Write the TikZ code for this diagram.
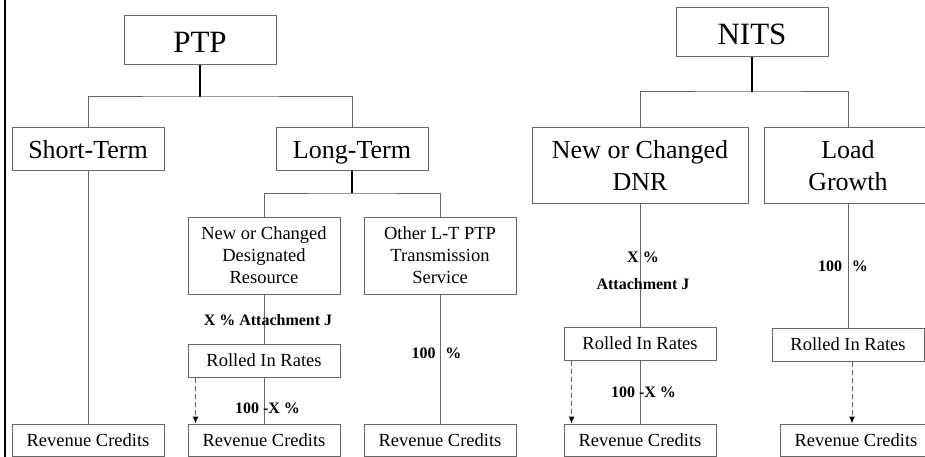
\documentclass[tikz,border=0pt]{standalone}
\usepackage{fontspec}
\setmainfont{Liberation Serif}
\usetikzlibrary{arrows.meta}
\definecolor{edge}{rgb}{0.40,0.40,0.40}
\tikzset{
  box/.style={draw=edge, line width=1pt, inner sep=0pt, align=center, text=black},
  huge/.style={box, minimum width=152pt, minimum height=49pt, font=\fontsize{31}{36}\selectfont,
               text height=24pt, text depth=0pt},
  mid/.style={box, minimum height=43pt, font=\fontsize{26}{31.5}\selectfont},
  midline/.style={mid, text height=20pt, text depth=3pt},
  small/.style={box, minimum width=152pt, font=\fontsize{18.5}{22}\selectfont},
  conn/.style={draw=edge, line width=1pt},
  stub/.style={draw=black, line width=1.6pt},
  flow/.style={draw=edge, line width=1pt, dash pattern=on 5pt off 3pt,
               -{Latex[length=7pt,width=6pt,color=black]}},
  lbl/.style={inner sep=0pt, font=\fontsize{16}{19}\selectfont\bfseries}
}
\begin{document}
\begin{tikzpicture}[x=1pt,y=-1pt]
\useasboundingbox (0,0) rectangle (925,457);
\clip (0,0) rectangle (925,457);

% left margin rule
\draw[black, line width=2.4pt] (5,-2) -- (5,460);

% ---------- PTP tree ----------
\node[huge] (ptp) at (200,40.5) {PTP};
\node[midline, minimum width=152pt] (short) at (88,149.5) {Short-Term};
\node[midline, minimum width=152pt] (long) at (352,149.5) {Long-Term};
\node[small, minimum height=77pt] (ncdr) at (264,255.5) {New or Changed\\Designated\\Resource};
\node[small, minimum height=77pt] (olt) at (440,255.5) {Other L-T PTP\\Transmission\\Service};
\node[small, minimum height=33pt] (rolA) at (264,360.5) {Rolled In Rates};
\node[small, minimum height=32pt] (revA) at (88,440) {Revenue Credits};
\node[small, minimum height=32pt] (revB) at (264,440) {Revenue Credits};
\node[small, minimum height=32pt] (revC) at (440,440) {Revenue Credits};

\coordinate (jPTP) at (200,97);
\coordinate (jLT) at (352,193);
\draw[stub] (ptp) -- (jPTP);
\draw[conn] (short.north) |- (jPTP) -| (long.north);
\draw[stub] (long) -- (jLT);
\draw[conn] (ncdr.north) |- (jLT) -| (olt.north);
\draw[conn] (short) -- (revA);
\draw[conn] (ncdr) -- (rolA);
\draw[conn] (rolA) -- (revB);
\draw[conn] (olt) -- (revC);
\draw[flow] ([xshift=8pt]rolA.south west) -- ([xshift=8pt]rolA.south west |- revB.north);

\node[lbl] (xa) at (268,320) {X \% Attachment J};
\node[lbl] (hxa) at (267.5,408) {100 -X \%};
\node[lbl] (hc) at (436.5,353) {100\hspace{0.6em}\%};

% ---------- NITS tree ----------
\node[huge] (nits) at (752,32.5) {NITS};
\node[mid, minimum width=216pt, minimum height=75pt] (dnr) at (640,165.5) {New or Changed\\DNR};
\node[mid, minimum width=168pt, minimum height=75pt] (load) at (848,165.5) {Load\\Growth};
\node[small, minimum height=33pt] (rolB) at (640,343.5) {Rolled In Rates};
\node[small, minimum height=33pt] (rolC) at (848,344.5) {Rolled In Rates};
\node[small, minimum height=32pt] (revD) at (640,440) {Revenue Credits};
\node[small, minimum height=32pt] (revE) at (856,440) {Revenue Credits};

\coordinate (jN) at (752,92);
\draw[stub] (nits) -- (jN);
\draw[conn] (dnr.north) |- (jN) -| (load.north);
\draw[conn] (dnr) -- (rolB);
\draw[conn] (rolB) -- (revD);
\draw[conn] (load) -- (rolC);
\draw[flow] ([xshift=8pt]rolB.south west) -- ([xshift=8pt]rolB.south west |- revD.north);
\draw[flow] ([xshift=4pt]rolC.south) -- ([xshift=4pt]rolC.south |- revE.north);

\node[lbl] (xb) at (643,257) {X \%};
\node[lbl] (ab) at (643,284) {Attachment J};
\node[lbl] (hxb) at (643.5,392) {100 -X \%};
\node[lbl] (hd) at (843,266) {100\hspace{0.6em}\%};
\end{tikzpicture}
\end{document}
